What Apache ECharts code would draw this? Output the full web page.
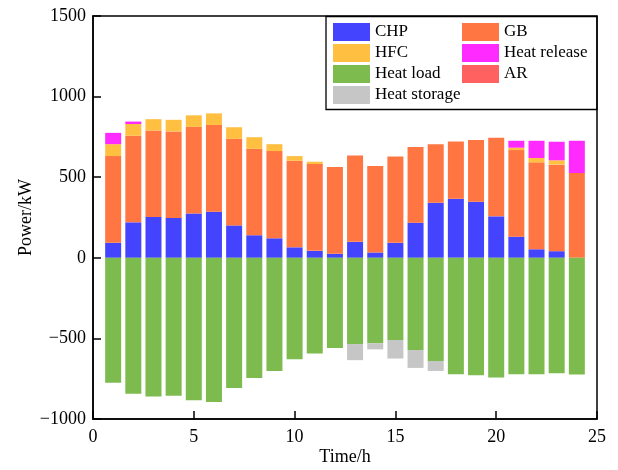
<!DOCTYPE html>
<html>
<head>
<meta charset="utf-8">
<script src="https://cdn.jsdelivr.net/npm/echarts@6/dist/echarts.min.js"></script>
<style>html,body{margin:0;padding:0;background:#fff;overflow:hidden}#c{position:absolute;left:0;top:0;width:618px;height:470px}</style>
</head>
<body>
<div id="c"></div>
<script>
const hours = [1,2,3,4,5,6,7,8,9,10,11,12,13,14,15,16,17,18,19,20,21,22,23,24];
const chp = [93,220,253,247,275,286,201,140,121,65,43,25,99,33,93,218,341,366,347,257,131,53,41,0];
const gb = [538,537,537,537,537,538,537,536,541,537,539,538,536,537,536,469,364,356,383,487,537,539,537,526];
const hfc = [74,73,70,72,72,72,72,72,43,29,14,0,0,0,0,0,0,0,0,0,15,27,27,0];
const heatRelease = [70,15,0,0,0,0,0,0,0,0,0,0,0,0,0,0,0,0,0,0,43,107,115,200];
const ar = [0,0,0,0,0,0,0,0,0,0,0,0,0,0,0,0,0,0,0,0,0,0,0,0];
const heatLoad = [-775,-843,-860,-856,-884,-895,-808,-745,-703,-629,-594,-560,-535,-530,-510,-572,-640,-722,-728,-743,-722,-722,-716,-724];
const heatStorage = [0,0,0,0,0,0,0,0,0,0,0,0,-100,-38,-115,-111,-62,0,0,0,0,0,0,0];
const yTicks = [-1000,-500,0,500,1000,1500];
const xMin = 0, xMax = 25, xStep = 5;

const FONT = "'Liberation Serif','Times New Roman',serif";
// category slots 0..25 placed on the tick positions (boundaryGap false)
const slots = [];
for (let t = xMin; t <= xMax; t++) slots.push(String(t));
const toSlots = arr => slots.map(s => {
  const i = hours.indexOf(Number(s));
  return i >= 0 ? arr[i] : 0;
});
const seriesDefs = [
  ['CHP', chp, '#4444FF'],
  ['GB', gb, '#FF7642'],
  ['HFC', hfc, '#FFC042'],
  ['Heat release', heatRelease, '#FF2AFF'],
  ['AR', ar, '#FF6060'],
  ['Heat load', heatLoad, '#7DBB4E'],
  ['Heat storage', heatStorage, '#C6C6C6']
];
const chart = echarts.init(document.getElementById('c'), null, {renderer: 'canvas', width: 618, height: 470});
const legendCommon = {
  orient: 'vertical', top: 23, itemWidth: 37, itemHeight: 18, itemGap: 3, padding: 0,
  icon: 'rect', selectedMode: false,
  textStyle: {fontFamily: FONT, fontSize: 17, color: '#000'}
};
const isMajor = (idx) => (Number(slots[idx]) - xMin) % xStep === 0;
chart.setOption({
  animation: false,
  backgroundColor: '#fff',
  textStyle: {fontFamily: FONT},
  grid: {left: 93, right: 21, top: 16, bottom: 51, show: true, borderColor: '#000', borderWidth: 1.5,
    containLabel: false, outerBoundsMode: 'none'},
  legend: [
    Object.assign({left: 333, data: ['CHP', 'HFC', 'Heat load', 'Heat storage']}, legendCommon),
    Object.assign({left: 462, data: ['GB', 'Heat release', 'AR']}, legendCommon)
  ],
  graphic: [{
    type: 'rect', shape: {x: 326, y: 16.5, width: 271, height: 93},
    style: {fill: 'none', stroke: '#000', lineWidth: 1.3}, z: 10
  }],
  xAxis: {
    type: 'category', data: slots, boundaryGap: false,
    name: 'Time/h', nameLocation: 'middle', nameGap: 29, nameMoveOverlap: false,
    nameTextStyle: {fontFamily: FONT, fontSize: 18, color: '#000'},
    axisLine: {show: true, onZero: false, lineStyle: {color: '#000', width: 1.5}},
    axisTick: {show: true, inside: true, length: 8, interval: (idx) => isMajor(idx), lineStyle: {color: '#000', width: 1.5}},
    axisLabel: {fontFamily: FONT, fontSize: 18, color: '#000', margin: 9, interval: (idx) => isMajor(idx)},
    splitLine: {show: false}
  },
  yAxis: {
    type: 'value', min: -1000, max: 1500, interval: 500,
    name: 'Power/kW', nameLocation: 'middle', nameGap: 58, nameRotate: 90, nameMoveOverlap: false,
    nameTextStyle: {fontFamily: FONT, fontSize: 18, color: '#000'},
    axisLine: {show: true, lineStyle: {color: '#000', width: 1.5}},
    axisTick: {show: true, inside: true, length: 8, lineStyle: {color: '#000', width: 1.5}},
    axisLabel: {fontFamily: FONT, fontSize: 18, color: '#000', margin: 7,
      formatter: v => yTicks.includes(v) ? String(v).replace('-', '\u2212') : ''},
    splitLine: {show: false}
  },
  series: seriesDefs.map(([name, arr, color]) => ({
    name, type: 'bar', stack: 'total', barWidth: 16,
    data: toSlots(arr),
    itemStyle: {color: color},
    emphasis: {disabled: true}
  }))
});
</script>
</body>
</html>
